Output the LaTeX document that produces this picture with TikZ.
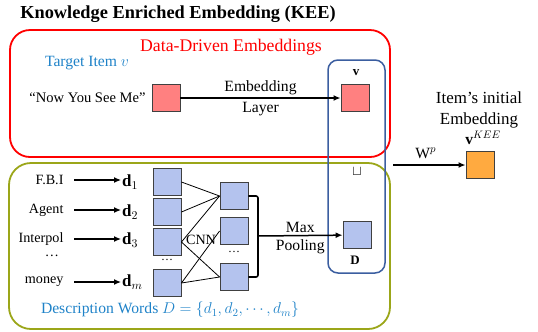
\documentclass[tikz,border=0pt]{standalone}
\usepackage{fix-cm}
\usepackage{fontspec}
\setmainfont{Liberation Serif}
\usepackage{tikz}
\usetikzlibrary{arrows.meta}
\usepackage{xcolor}
\definecolor{sqpink}{RGB}{255,128,128}
\definecolor{sqblue}{RGB}{180,195,238}
\definecolor{sqorange}{RGB}{255,170,64}
\definecolor{sqedge}{RGB}{64,64,64}
\definecolor{colblue}{RGB}{59,94,160}
\definecolor{olive}{RGB}{155,166,25}
\definecolor{txtblue}{RGB}{30,130,200}

\begin{document}
\begin{tikzpicture}[x=1bp,y=-1bp,
		sq/.style={draw=sqedge,line width=0.9bp,minimum width=28bp,minimum height=27bp,inner sep=0pt},
		word/.style={anchor=east,font=\fontsize{14.2}{16}\selectfont},
		lbl/.style={font=\fontsize{15.7}{17}\selectfont},
		vec/.style={anchor=west,font=\fontsize{17}{19}\selectfont,inner sep=1bp}]
				\useasboundingbox (0,0) rectangle (538,331);
				\node(title) at (178,14)[font=\bfseries\fontsize{18.4}{20}\selectfont]{Knowledge Enriched Embedding (KEE)};
				% the three frames
				\draw[red, line width=1.8bp, rounded corners=20bp] (10,30) rectangle (390,157);
				\draw[olive, line width=1.8bp, rounded corners=22bp] (9,163) rectangle (390,329);
				\draw[colblue, line width=1.5bp, rounded corners=10bp] (328,60) rectangle (385,273);
				\node(dde) at (231,47)[red,font=\fontsize{17.8}{19}\selectfont]{Data-Driven Embeddings};
				\node(target) at (87,63)[txtblue,lbl]{Target Item $v$};
				\node(movie) at (149,98)[word,font=\fontsize{14.6}{16}\selectfont]{“Now You See Me”};
				\node(item) at (166,98)[sq,fill=sqpink]{};
				\node(v) at (355,98)[sq,fill=sqpink]{};
				\node(vlab) at (356,73)[font=\bfseries\fontsize{13}{14}\selectfont]{v};
				\draw[-{Latex[length=7bp,width=6bp]}, line width=1.8bp] (item) -- node[above,lbl,yshift=-1bp]{Embedding} node[below,lbl]{Layer} (v);
				\node(cat) at (357,172)[font=\fontsize{14}{15}\selectfont]{$\sqcup$};
				\coordinate(wp) at (393,165);
				\node(vkee) at (480,165)[sq,fill=sqorange]{};
				\node(init) at (479,110)[align=center,font=\fontsize{17}{21}\selectfont]{Item’s initial\\Embedding};
				\node(vkeelab) at (483,138)[font=\fontsize{15.5}{16}\selectfont]{$\mathbf{v}^{KEE}$};
				\draw[-{Latex[length=7bp,width=6bp]}, line width=1.8bp] (wp) -- node[above,lbl,pos=0.45,yshift=2bp]{W$^{p}$} (vkee);
				% description words
				\node(w1) at (67,180)[word]{F.B.I};
				\node(w2) at (67,210)[word]{Agent};
				\node(w3) at (67,239)[word]{Interpol};
				\node(wdots) at (52,256)[font=\fontsize{14.2}{16}\selectfont]{…};
				\node(wm) at (67,282)[word]{money};
				\node(d1) at (121,182)[vec]{$\mathbf{d}_1$};
				\node(d2) at (121,212)[vec]{$\mathbf{d}_2$};
				\node(d3) at (121,240)[vec]{$\mathbf{d}_3$};
				\node(dm) at (121,282)[vec]{$\mathbf{d}_m$};
				\draw[-{Latex[length=7bp,width=6bp]}, line width=1.2bp, shorten <=7bp] (w1.east) -- (d1.west |- w1.east);
				\draw[-{Latex[length=7bp,width=6bp]}, line width=1.2bp, shorten <=7bp] (w2.east) -- (d2.west |- w2.east);
				\draw[-{Latex[length=7bp,width=6bp]}, line width=1.2bp, shorten <=7bp] (w3.east) -- (d3.west |- w3.east);
				\draw[-{Latex[length=7bp,width=6bp]}, line width=1.2bp, shorten <=7bp] (wm.east) -- (dm.west |- wm.east);
				\node(c1) at (167,182)[sq,fill=sqblue]{};
				\node(c2) at (167,212)[sq,fill=sqblue]{};
				\node(c3) at (167,242)[sq,fill=sqblue]{};
				\node(cdots) at (167,260)[font=\fontsize{12}{13}\selectfont]{…};
				\node(c4) at (167,283)[sq,fill=sqblue]{};
				\node(m1) at (234,196)[sq,fill=sqblue]{};
				\node(m2) at (234,231)[sq,fill=sqblue]{};
				\node(mdots) at (234,252)[font=\fontsize{12}{13}\selectfont]{…};
				\node(m3) at (234,277)[sq,fill=sqblue]{};
				\node(cnn) at (201,240)[font=\fontsize{14.2}{16}\selectfont]{CNN};
				\draw[line width=0.8bp] (c1.east) -- (m1.west);
				\draw[line width=0.8bp] (c2.east) -- (m1.west);
				\draw[line width=0.8bp] (c3.east) -- (m1.west);
				\draw[line width=0.8bp] (c3.east) -- (m3.west);
				\draw[line width=0.8bp] (c4.east) -- (m2.west);
				\draw[line width=0.8bp] (c4.east) -- (m3.west);
				\coordinate(br) at (258,236);
				\draw[line width=1.6bp, rounded corners=2bp] (m1.east) -| (br) |- (m3.east);
				\node(D) at (357,235)[sq,fill=sqblue]{};
				\node(Dlab) at (355,260)[font=\bfseries\fontsize{13}{14}\selectfont]{D};
				\draw[-{Latex[length=7bp,width=6bp]}, line width=1.5bp] (br) -- node[above,lbl,yshift=-1bp]{Max} node[below,lbl]{Pooling} (D);
				\node(desc) at (170,310)[txtblue,lbl]{Description Words $D=\{d_1,d_2,\cdots,d_m\}$};
			\end{tikzpicture}
\end{document}
